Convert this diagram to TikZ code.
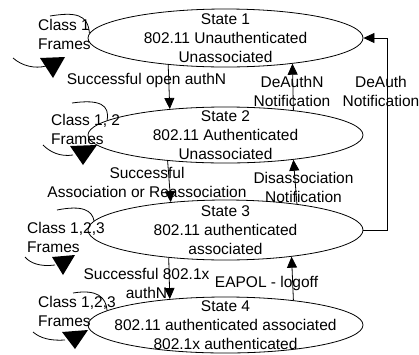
\documentclass[tikz,border=0pt]{standalone}
\usepackage{fontspec}
\setmainfont{Liberation Sans}
\usetikzlibrary{shapes.geometric,arrows.meta}
\begin{document}
\begin{tikzpicture}[x=1pt,y=-1pt,
  every node/.style={font=\fontsize{15.5}{19}\selectfont, inner sep=0pt},
  ell/.style={draw, ellipse, line width=0.8pt, minimum width=275pt, inner sep=0pt},
  lab/.style={align=center},
  loopt/.style={align=left, anchor=west},
  conn/.style={line width=0.8pt, -{Triangle[length=11pt,width=10pt]}},
  lp/.style={line width=0.8pt},
  tri/.style={fill=black}]
\useasboundingbox (0,0) rectangle (419,354);
% states
\node[ell, minimum height=58pt] (e1) at (225.5,38) {};
\node[ell, minimum height=56pt] (e2) at (225.5,135) {};
\node[ell, minimum height=60pt] (e3) at (225.5,230) {};
\node[ell, minimum height=56pt] (e4) at (225.5,325) {};
\node[lab] (t1) at (e1.center) {State 1\\802.11 Unauthenticated\\Unassociated};
\node[lab] (t2) at (e2.center) {State 2\\802.11 Authenticated\\Unassociated};
\node[lab] (t3) at (e3.center) {State 3\\802.11 authenticated\\associated};
\node[lab] (t4) at (e4.center) {State 4\\802.11 authenticated associated\\802.1x authenticated};
% forward transitions
\draw[conn] (e1.205.5) -- (e2.155.2);
\draw[conn] (e2.204.8) -- (e3.153.7);
\draw[conn] (e3.206.3) -- (e4.155.2);
% backward transitions
\draw[conn] (e2.20.2) -- (e1.339.1);
\draw[conn] (e3.20.4) -- (e2.340.8);
\draw[conn] (e4.20.2) -- (e3.338.4);
\draw[conn] (e3.east) -- ++(24,0) |- (e1.east);
% labels
\node[lab] (l1) at (146.5,80) {Successful open authN};
\node[lab] (l2) at (292,91.5) {DeAuthN\\Notification};
\node[lab] (l3) at (381,91.5) {DeAuth\\Notification};
\node[lab] (l4) at (147,182.5) {Successful\\Association or Reassociation};
\node[lab] (l5) at (303.5,187.5) {Disassociation\\Notification};
\node[lab] (l6) at (146.5,283.5) {Successful 802.1x\\authN};
\node[lab] (l7) at (266.5,283) {EAPOL - logoff};
% self loops
\node[loopt] (c1) at (38,34) {Class 1\\Frames};
\node[loopt] (c2) at (51,129) {Class 1, 2\\Frames};
\node[loopt] (c3) at (27,237.5) {Class 1,2,3\\Frames};
\node[loopt] (c4) at (38,311) {Class 1,2,3\\Frames};
\draw[lp] (e1.178.5) .. controls (88,14) and (75,12) .. (50,16);
\draw[lp] (e2.173.3) .. controls (110,105) and (100,99) .. (72,103);
\draw[lp] (e3.176.5) .. controls (92,210) and (82,205) .. (57,210);
\draw[lp] (e4.173.3) .. controls (106,297) and (97,289) .. (73,293);
\draw[lp] (13,58) .. controls (22,66) and (35,69) .. (46,66);
\draw[lp] (43,145) .. controls (50,152) and (60,157) .. (73,155);
\draw[lp] (25,257) .. controls (30,263) and (40,267) .. (55,265);
\draw[lp] (33,332) .. controls (40,338) and (50,341) .. (65,340);
\fill[tri] (40,58) -- (65,57) -- (53,78) -- cycle;
\fill[tri] (70,146) -- (97,145) -- (83,165) -- cycle;
\fill[tri] (52,257) -- (75,255) -- (63,275) -- cycle;
\fill[tri] (62,332) -- (88,330) -- (75,349) -- cycle;
\end{tikzpicture}
\end{document}
